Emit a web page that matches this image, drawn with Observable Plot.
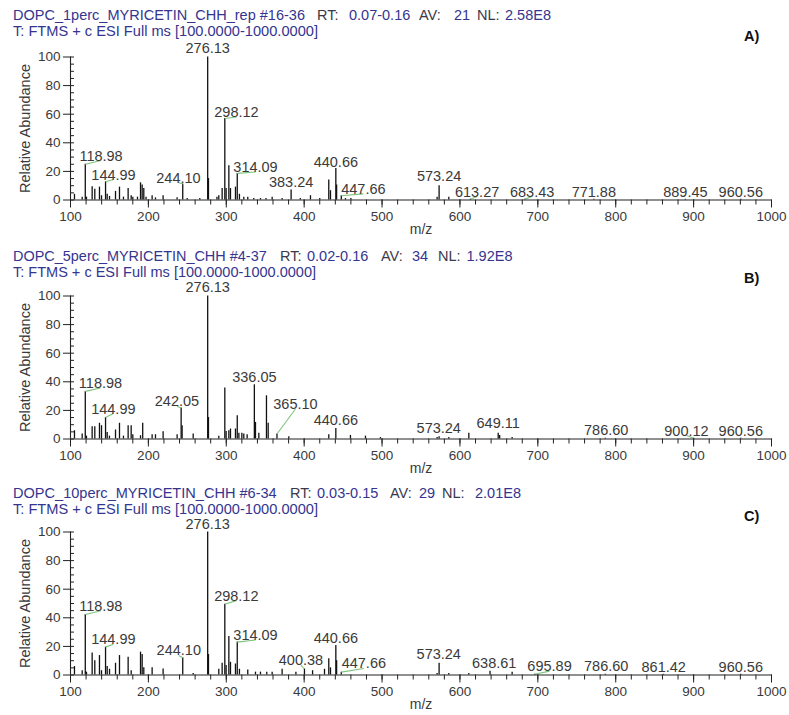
<!DOCTYPE html>
<html><head><meta charset="utf-8">
<script src="https://cdn.jsdelivr.net/npm/d3@7"></script>
<script src="https://cdn.jsdelivr.net/npm/@observablehq/plot@0.6"></script>
<style>
html,body{margin:0;padding:0;background:#fff;}
body{width:789px;height:715px;overflow:hidden;position:relative;font-family:"Liberation Sans",Arial,sans-serif;}
.panel{position:absolute;left:0;width:789px;height:236px;}
.panel svg{position:absolute;left:0;top:0;display:block;}
.hdr{position:absolute;font-size:14.5px;line-height:17px;color:#35358f;white-space:pre;}
.k{color:#3a3a4a;}
.tag{position:absolute;left:744px;font-weight:bold;font-size:14.5px;line-height:17px;color:#111;}
</style></head><body>
<script>
// ---------- header texts ----------
const fileNames = ["DOPC_1perc_MYRICETIN_CHH_rep #16-36", "DOPC_5perc_MYRICETIN_CHH #4-37", "DOPC_10perc_MYRICETIN_CHH #6-34"];
const rtValues = ["0.07-0.16", "0.02-0.16", "0.03-0.15"];
const avValues = ["21", "34", "29"];
const nlValues = ["2.58E8", "1.92E8", "2.01E8"];
const scanLine = "T: FTMS + c ESI Full ms [100.0000-1000.0000]";
const panelTags = ["A)", "B)", "C)"];
const yTitle = "Relative Abundance";
const xTitle = "m/z";

// ---------- axis ticks ----------
const xMajorTicks = [100, 200, 300, 400, 500, 600, 700, 800, 900, 1000];
const xMinorTicks = d3.range(100, 1001, 20);
const yMajorTicks = [0, 20, 40, 60, 80, 100];
const yMinorTicks = d3.range(0, 101, 5);

// ---------- spectrum A ----------
const peaksA_mz = [105.1, 115.0, 118.98, 120.5, 127.8, 131.2, 137.2, 139.8, 144.99, 147.1, 150.1, 157.8, 162.9, 168.0, 174.0, 177.9, 180.0, 186.0, 189.9, 192.0, 194.1, 197.0, 204.8, 209.1, 218.9, 236.9, 244.10, 249.8, 266.0, 276.13, 277.13, 288.0, 290.4, 294.7, 298.12, 299.8, 303.3, 305.4, 311.8, 314.09, 316.9, 322.5, 327.6, 335.3, 343.9, 351.0, 358.9, 371.7, 383.24, 395.0, 408.1, 420.0, 431.6, 433.8, 440.66, 441.66, 447.66, 453.0, 460.0, 570.7, 573.24, 585.7, 613.27, 683.43, 771.88, 889.45, 960.56];
const peaksA_ab = [4, 2, 25, 2, 9.3, 7.5, 9, 3, 12.8, 4, 2.5, 6, 9, 2, 8, 3, 2, 2, 12, 10.5, 8, 2, 3, 1.5, 3, 1.5, 11.2, 1, 1, 100, 15, 2, 3, 8, 57, 8, 24, 8, 9, 18.6, 4, 2, 2, 1, 1, 1, 2, 1, 7, 1, 3, 1, 14, 6.5, 22, 10.5, 3, 1, 1, 2, 10, 2, 0.6, 0.6, 0.5, 0.5, 0.5];
const labelsA_text = ["118.98", "144.99", "244.10", "276.13", "298.12", "314.09", "383.24", "440.66", "447.66", "573.24", "613.27", "683.43", "771.88", "889.45", "960.56"];
const labelsA_x = [139.2, 155.2, 238.6, 276.13, 313.1, 337.5, 383.24, 440.66, 476.0, 573.24, 622.0, 692.7, 771.88, 889.45, 960.56];
const labelsA_y = [27.6, 14.3, 12.2, 103, 58, 19.6, 9.4, 23.4, 4.3, 13, 2.4, 2.4, 2.4, 2.4, 2.4];
const labelsA_lead = [1, 1, 1, 0, 1, 1, 0, 0, 1, 0, 1, 1, 0, 0, 0];

// ---------- spectrum B ----------
const peaksB_mz = [105.1, 115.0, 118.98, 120.5, 127.8, 131.2, 137.2, 139.8, 144.99, 147.1, 150.0, 157.8, 162.9, 168.0, 174.0, 177.9, 180.0, 189.9, 192.7, 204.8, 209.1, 218.9, 236.9, 242.05, 243.3, 257.5, 276.13, 277.13, 290.4, 298.12, 299.8, 303.3, 305.4, 311.8, 314.09, 316.2, 320.0, 322.5, 326.8, 336.05, 337.5, 341.8, 351.6, 353.8, 365.10, 380.3, 431.6, 440.66, 459.4, 478.7, 497.9, 570.7, 573.24, 585.7, 611.4, 649.11, 651.0, 667.0, 786.60, 900.12, 960.56];
const peaksB_ab = [5.8, 3.5, 33.3, 2, 8.6, 8.6, 11, 9.3, 15, 4.6, 2, 6.3, 11, 2, 9.3, 9.3, 3, 2.3, 11, 3, 3, 5, 3, 21.6, 9.3, 3.5, 100, 15, 2, 35.6, 5.3, 5.8, 7, 7, 16.3, 4, 4, 3.5, 3, 37.9, 11.6, 4, 30.2, 11, 3.5, 1.5, 3, 7.4, 2.5, 2, 1, 1, 1.6, 1, 4, 4, 2.5, 1, 0.5, 0.5, 0.5];
const labelsB_text = ["118.98", "144.99", "242.05", "276.13", "336.05", "365.10", "440.66", "573.24", "649.11", "786.60", "900.12", "960.56"];
const labelsB_x = [138.5, 155.0, 236.7, 276.13, 336.05, 388.8, 440.66, 572.8, 649.11, 787.8, 890.8, 960.56];
const labelsB_y = [35.7, 17.8, 22.9, 103, 39.6, 21, 9.6, 4.4, 7.9, 3.1, 2.4, 2.4];
const labelsB_lead = [1, 1, 1, 0, 0, 1, 0, 0, 0, 0, 1, 0];

// ---------- spectrum C ----------
const peaksC_mz = [105.1, 115.0, 118.98, 120.5, 127.8, 131.2, 137.2, 139.8, 144.99, 147.1, 150.1, 157.8, 162.9, 174.0, 177.9, 189.9, 192.0, 194.1, 204.8, 218.9, 244.10, 257.5, 276.13, 277.13, 290.4, 294.7, 298.12, 299.8, 303.3, 305.4, 311.8, 314.09, 316.9, 327.6, 337.5, 343.9, 352.0, 358.9, 371.7, 389.4, 400.38, 410.8, 426.1, 431.6, 433.8, 440.66, 441.66, 447.66, 570.7, 573.24, 585.7, 611.4, 638.61, 667.0, 695.89, 786.60, 861.42, 960.56];
const peaksC_ab = [5.9, 3, 42.3, 2, 15.3, 10, 13.6, 3, 19.5, 6, 4, 8.2, 13.6, 12.4, 3, 16, 14.3, 5, 5, 4.2, 12, 1, 100, 14.3, 4, 8.2, 49.5, 6.6, 27, 8.9, 7.7, 23, 4, 3.5, 2, 2, 2, 2, 4, 2, 4.2, 3, 4, 11.3, 5, 20.7, 10, 2, 1, 8.2, 1, 1, 2.6, 2, 0.5, 0.5, 0.5, 0.5];
const labelsC_text = ["118.98", "144.99", "244.10", "276.13", "298.12", "314.09", "400.38", "440.66", "447.66", "573.24", "638.61", "695.89", "786.60", "861.42", "960.56"];
const labelsC_x = [138.9, 155.0, 239.0, 276.13, 312.9, 337.5, 395.9, 440.66, 476.6, 572.8, 644.0, 715.0, 787.8, 861.6, 960.56];
const labelsC_y = [44.9, 21.5, 13.7, 102, 52, 24.5, 6.9, 22.6, 4.6, 10.9, 5, 2.7, 2.7, 2.4, 2.4];
const labelsC_lead = [1, 1, 1, 0, 1, 1, 1, 0, 1, 0, 0, 1, 0, 0, 0];

// ---------- layout ----------
const panelTop = [0, 239, 475];
const headerTop = [15, 17.5, 18];
const tagTop = [36.7, 39.3, 41.7];
// left edges of header segments: name, "RT:", rt, "AV:", av, "NL:", nl
const headerLefts = [
  [13, 317, 349, 419, 454, 477, 505],
  [13, 280, 307, 381, 412, 438, 466.5],
  [13, 290, 317, 390, 419, 442, 475]
];
// right edges of the file name and of the scan line, as seen in the figure
const nameRight = [305, 266.7, 276.7];
const scanRight = [318, 316, 318];

const spectra = [
  [peaksA_mz, peaksA_ab, labelsA_text, labelsA_x, labelsA_y, labelsA_lead],
  [peaksB_mz, peaksB_ab, labelsB_text, labelsB_x, labelsB_y, labelsB_lead],
  [peaksC_mz, peaksC_ab, labelsC_text, labelsC_x, labelsC_y, labelsC_lead]
];

const ink = "#222";
const labelInk = "#3a3a3a";

function addText(parent, cls, text, left, top) {
  const el = document.createElement("div");
  el.className = cls;
  el.style.left = left + "px";
  el.style.top = top + "px";
  el.textContent = text;
  parent.appendChild(el);
  return el;
}
function fitRight(el, left, right) {
  const w = el.getBoundingClientRect().width;
  if (w > 0) {
    el.style.transformOrigin = "0 50%";
    el.style.transform = `scaleX(${(right - left) / w})`;
  }
}

spectra.forEach(([pmz, pab, lt, lx, ly, ll], i) => {
  const peaks = pmz.map((mz, j) => ({mz, ab: pab[j]}));
  const labels = lt.map((t, j) => {
    const mz = +t;
    const pk = peaks.reduce((a, b) => Math.abs(b.mz - mz) < Math.abs(a.mz - mz) ? b : a);
    return {t, mz, ab: pk.ab, lx: lx[j], ly: ly[j], lead: ll[j]};
  });

  const div = document.createElement("div");
  div.className = "panel";
  div.style.top = panelTop[i] + "px";
  document.body.appendChild(div);

  const svg = Plot.plot({
    width: 789,
    height: 236,
    marginLeft: 70,
    marginRight: 18,
    marginTop: 56.5,
    marginBottom: 36.5,
    x: {domain: [100, 1000], label: null},
    y: {domain: [0, 100], label: null},
    style: {fontFamily: "'Liberation Sans', Arial, sans-serif", background: "transparent", color: ink, overflow: "visible"},
    marks: [
      Plot.ruleX(peaks, {x: "mz", y1: 0, y2: "ab", stroke: "#111", strokeWidth: 1.3}),
      Plot.link(labels.filter(d => d.lead), {x1: "mz", y1: "ab", x2: "lx", y2: "ly", stroke: "#7cc47c", strokeWidth: 1.1}),
      Plot.text(labels, {x: "lx", y: "ly", text: "t", lineAnchor: "bottom", fontSize: 14.5, fill: labelInk}),
      Plot.ruleY([0], {stroke: ink, strokeWidth: 1.1}),
      Plot.ruleX([100], {stroke: ink, strokeWidth: 1.1}),
      Plot.axisX({ticks: xMajorTicks, tickSize: 8, tickPadding: 3, fontSize: 13.5, tickFormat: d => String(d), label: null, fill: labelInk}),
      Plot.axisX({ticks: xMinorTicks, tickSize: 5, tickFormat: () => "", label: null}),
      Plot.axisY({ticks: yMajorTicks, tickSize: 7, tickPadding: 3, fontSize: 13.5, tickFormat: d => String(d), label: null, fill: labelInk}),
      Plot.axisY({ticks: yMinorTicks, tickSize: -4, tickFormat: () => "", label: null}),
      Plot.text([yTitle], {text: d => d, frameAnchor: "left", textAnchor: "middle", dx: -45, rotate: -90, fontSize: 14.5, fill: labelInk}),
      Plot.text([xTitle], {text: d => d, frameAnchor: "bottom", dy: 34, fontSize: 14, fill: labelInk})
    ]
  });
  div.appendChild(svg);

  const L = headerLefts[i];
  const t1 = headerTop[i] - 8.3;
  const nameEl = addText(div, "hdr", fileNames[i], L[0], t1);
  fitRight(nameEl, L[0], nameRight[i]);
  addText(div, "hdr k", "RT:", L[1], t1);
  addText(div, "hdr", rtValues[i], L[2], t1);
  addText(div, "hdr k", "AV:", L[3], t1);
  addText(div, "hdr", avValues[i], L[4], t1);
  addText(div, "hdr k", "NL:", L[5], t1);
  addText(div, "hdr", nlValues[i], L[6], t1);
  const scanEl = addText(div, "hdr", scanLine, 13, headerTop[i] + 16 - 8.3);
  fitRight(scanEl, 13, scanRight[i]);
  addText(div, "tag", panelTags[i], 744, tagTop[i] - 8.5);
});
</script>
</body></html>
